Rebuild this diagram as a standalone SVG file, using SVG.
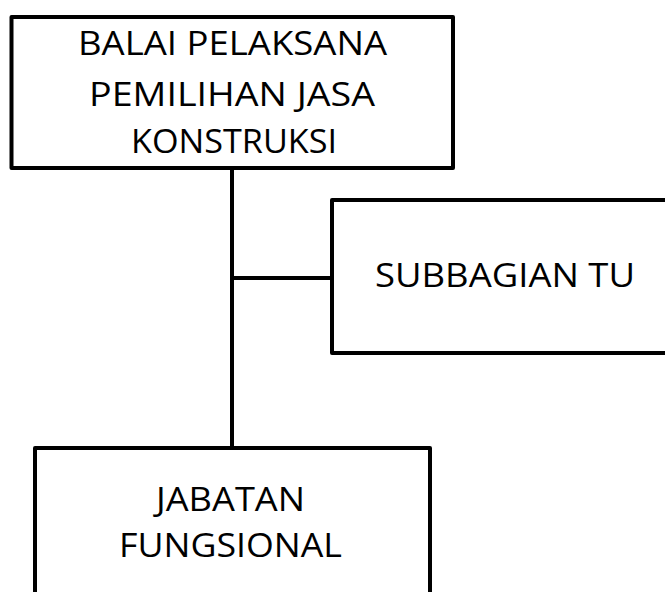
<svg xmlns="http://www.w3.org/2000/svg" width="665" height="592" viewBox="0 0 665 592">
<style>
.box{fill:#fff;stroke:#000;stroke-width:4;stroke-linejoin:round}
.conn{fill:none;stroke:#000;stroke-width:4}
text{font-family:"Open Sans","Liberation Sans",sans-serif;font-size:32px;fill:#000;text-anchor:middle}
</style>
<rect width="665" height="592" fill="#fff"/>
<g id="connectors">
<line class="conn" x1="232" y1="168" x2="232" y2="448"/>
<line class="conn" x1="232" y1="278" x2="332" y2="278"/>
</g>
<g id="balai">
<rect class="box" x="11.5" y="17" width="441.5" height="151"/>
<text x="232.5" y="55" textLength="309" lengthAdjust="spacingAndGlyphs">BALAI PELAKSANA</text>
<text x="232" y="106" textLength="286" lengthAdjust="spacingAndGlyphs">PEMILIHAN JASA</text>
<text x="234" y="153" textLength="206" lengthAdjust="spacingAndGlyphs">KONSTRUKSI</text>
</g>
<g id="subbagian">
<rect class="box" x="332" y="200" width="360" height="153"/>
<text x="505" y="287" textLength="260" lengthAdjust="spacingAndGlyphs">SUBBAGIAN TU</text>
</g>
<g id="jabatan">
<rect class="box" x="35" y="448" width="395" height="170"/>
<text x="230.5" y="511" textLength="149" lengthAdjust="spacingAndGlyphs">JABATAN</text>
<text x="230.5" y="557" textLength="223" lengthAdjust="spacingAndGlyphs">FUNGSIONAL</text>
</g>
</svg>
